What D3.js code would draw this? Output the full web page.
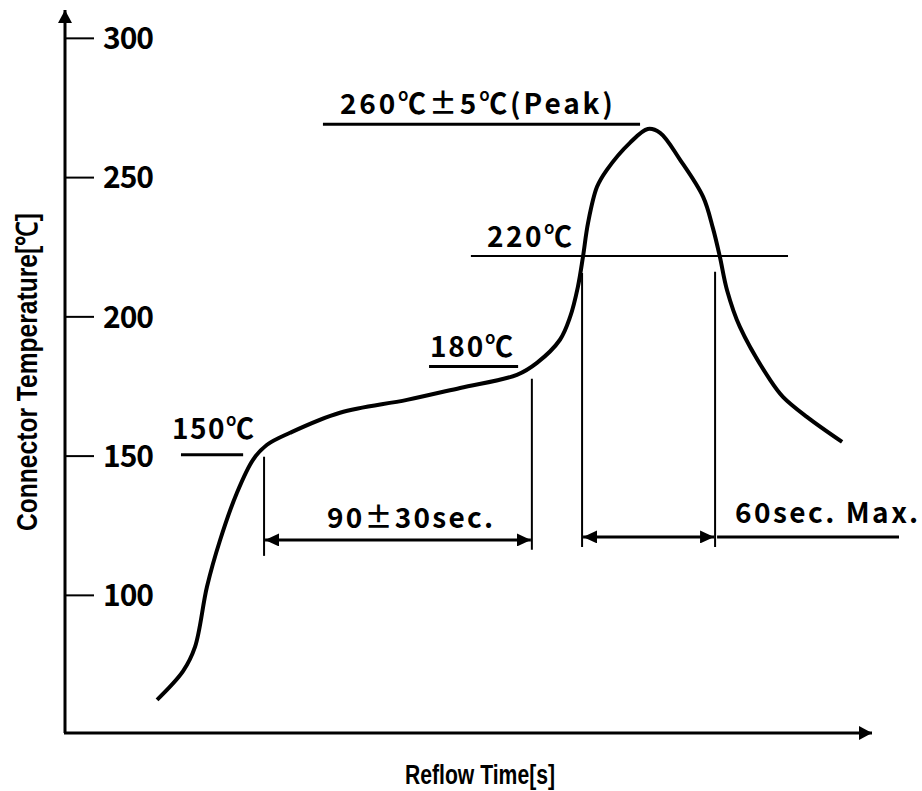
<!DOCTYPE html>
<html>
<head>
<meta charset="utf-8">
<script src="https://cdn.jsdelivr.net/npm/d3@7"></script>
<style>
  body { margin: 0; background: #fff; }
  .num { font-family: "Noto Sans CJK JP", "DejaVu Sans", sans-serif; font-weight: bold; fill: #000; }
  .lab { font-family: "Liberation Sans Narrow", "Liberation Sans", Arial, sans-serif; font-weight: bold; fill: #000; }
</style>
</head>
<body>
<div id="chart"></div>
<script>
// reflow profile (time in s, temperature in C)
var times = [30.8, 39.5, 43.5, 47.5, 51.9, 57.5, 62.9, 67.6, 75.3, 92.0, 114.4, 132.2, 151.2, 157.9,
             165.6, 169.0, 171.6, 173.3, 175.0, 178.0, 181.3, 189.0, 195.0, 199.1, 205.8, 213.5,
             216.8, 219.1, 221.5, 225.8, 235.9, 240.2, 248.2, 260.0]
var temps = [62.3, 72.6, 81.3, 102.9, 119.7, 136.6, 148.5, 153.9, 158.2, 165.4, 170.0, 174.3, 179.0, 183.3,
             191.6, 199.8, 210.6, 221.4, 233.6, 246.5, 252.6, 262.3, 267.3, 265.9, 256.2, 242.9,
             231.6, 221.4, 209.4, 196.2, 177.2, 171.1, 163.9, 154.9]
var tickValues = [100, 150, 200, 250, 300]

// temperature guides: level, start time, end time, label
var guideLevels = [150.3, 182.0, 221.7, 269.0]
var guideStart = [38.8, 121.8, 135.8, 86.3]
var guideEnd = [59.6, 151.6, 241.9, 192.4]
var guideText = ['150℃', '180℃', '220℃', '260℃±5℃(Peak)']

// time markers (vertical lines): time, bottom temp, top temp
var markTimes = [66.6, 156.2, 173.0, 217.5]
var markLow = [114.0, 116.2, 117.2, 117.2]
var markHigh = [149.6, 177.6, 215.6, 216.0]

// dimension arrows
var spanText = ['90±30sec.', '60sec. Max.']
var spanLevel = [119.7, 120.8]

var chart_width = 922
var chart_height = 791

var svg = d3.select('#chart')
    .append('svg')
    .attr('width', chart_width)
    .attr('height', chart_height)

var x = d3.scaleLinear().domain([0, 270]).range([65, 872])
var y = d3.scaleLinear().domain([50.4, 310]).range([733, 10])

var defs = svg.append('defs')
defs.append('marker')
    .attr('id', 'axhead')
    .attr('markerUnits', 'userSpaceOnUse')
    .attr('markerWidth', 14).attr('markerHeight', 14)
    .attr('refX', 13).attr('refY', 7)
    .attr('orient', 'auto')
    .append('path').attr('d', 'M0,0 L13,7 L0,14 Z').attr('fill', '#000')
defs.append('marker')
    .attr('id', 'dimhead')
    .attr('markerUnits', 'userSpaceOnUse')
    .attr('markerWidth', 15).attr('markerHeight', 13)
    .attr('refX', 14).attr('refY', 6.5)
    .attr('orient', 'auto-start-reverse')
    .append('path').attr('d', 'M0,0 L14,6.5 L0,13 Z').attr('fill', '#000')

//坐标轴
svg.append('line')
    .attr('x1', x(0)).attr('y1', y(50.4))
    .attr('x2', x(0)).attr('y2', y(310))
    .attr('stroke', '#000').attr('stroke-width', 3)
    .attr('marker-end', 'url(#axhead)')
svg.append('line')
    .attr('x1', x(0) - 1).attr('y1', y(50.4))
    .attr('x2', x(270)).attr('y2', y(50.4))
    .attr('stroke', '#000').attr('stroke-width', 3)
    .attr('marker-end', 'url(#axhead)')

var yAxis = svg.append('g')
    .attr('transform', 'translate(' + x(0) + ',0)')
    .call(d3.axisRight(y).tickValues(tickValues).tickSize(29).tickPadding(9))
yAxis.select('.domain').remove()
yAxis.selectAll('line').attr('stroke', '#000').attr('stroke-width', 2)
yAxis.selectAll('text')
    .attr('class', 'num')
    .attr('font-size', 30)
    .attr('dy', '0.36em')
    .attr('textLength', 51)
    .attr('lengthAdjust', 'spacing')
    .attr('fill', '#000')

svg.append('text')
    .attr('class', 'lab')
    .attr('transform', 'translate(37,372) rotate(-90)')
    .attr('text-anchor', 'middle')
    .attr('font-size', 29)
    .attr('textLength', 318)
    .attr('lengthAdjust', 'spacingAndGlyphs')
    .text('Connector Temperature[℃]')

svg.append('text')
    .attr('class', 'lab')
    .attr('x', 480).attr('y', 784)
    .attr('text-anchor', 'middle')
    .attr('font-size', 27)
    .attr('textLength', 150)
    .attr('lengthAdjust', 'spacingAndGlyphs')
    .text('Reflow Time[s]')

//温度曲线
var line = d3.line()
    .x(function(d){ return x(d[0]) })
    .y(function(d){ return y(d[1]) })
    .curve(d3.curveCatmullRom.alpha(0.5))
svg.append('path')
    .datum(d3.zip(times, temps))
    .attr('d', line)
    .attr('fill', 'none')
    .attr('stroke', '#000')
    .attr('stroke-width', 4)
    .attr('stroke-linejoin', 'round')

//温度标注线
var guideWidth = [3, 3, 2, 3]
var guideDx = [-9, 1, 16, 17]
var guideDy = [-16, -9, -9, -10]
var guideLen = [82, 83, 85, 273]
guideLevels.forEach(function(v, i){
    svg.append('line')
        .attr('x1', x(guideStart[i])).attr('x2', x(guideEnd[i]))
        .attr('y1', y(v)).attr('y2', y(v))
        .attr('stroke', '#000').attr('stroke-width', guideWidth[i])
    svg.append('text')
        .attr('class', 'num')
        .attr('x', x(guideStart[i]) + guideDx[i])
        .attr('y', y(v) + guideDy[i])
        .attr('font-size', 28)
        .attr('textLength', guideLen[i])
        .attr('lengthAdjust', 'spacing')
        .text(guideText[i])
})

//时间标注线
markTimes.forEach(function(t, i){
    svg.append('line')
        .attr('x1', x(t)).attr('x2', x(t))
        .attr('y1', y(markLow[i])).attr('y2', y(markHigh[i]))
        .attr('stroke', '#000').attr('stroke-width', 2)
})

// 90±30 sec arrow
svg.append('line')
    .attr('x1', x(markTimes[0]) + 1).attr('x2', x(markTimes[1]) - 1)
    .attr('y1', y(spanLevel[0])).attr('y2', y(spanLevel[0]))
    .attr('stroke', '#000').attr('stroke-width', 3)
    .attr('marker-start', 'url(#dimhead)')
    .attr('marker-end', 'url(#dimhead)')
svg.append('text')
    .attr('class', 'num')
    .attr('x', 327).attr('y', y(spanLevel[0]) - 12)
    .attr('font-size', 28)
    .attr('textLength', 166)
    .attr('lengthAdjust', 'spacing')
    .text(spanText[0])

// 60 sec arrow
svg.append('line')
    .attr('x1', x(markTimes[2]) + 1).attr('x2', x(markTimes[3]) - 1)
    .attr('y1', y(spanLevel[1])).attr('y2', y(spanLevel[1]))
    .attr('stroke', '#000').attr('stroke-width', 3)
    .attr('marker-start', 'url(#dimhead)')
    .attr('marker-end', 'url(#dimhead)')
svg.append('line')
    .attr('x1', x(markTimes[3]) + 2).attr('x2', 899)
    .attr('y1', y(spanLevel[1])).attr('y2', y(spanLevel[1]))
    .attr('stroke', '#000').attr('stroke-width', 3)
svg.append('text')
    .attr('class', 'num')
    .attr('x', 735).attr('y', y(spanLevel[1]) - 14)
    .attr('font-size', 28)
    .attr('textLength', 183)
    .attr('lengthAdjust', 'spacing')
    .text(spanText[1])
</script>
</body>
</html>
